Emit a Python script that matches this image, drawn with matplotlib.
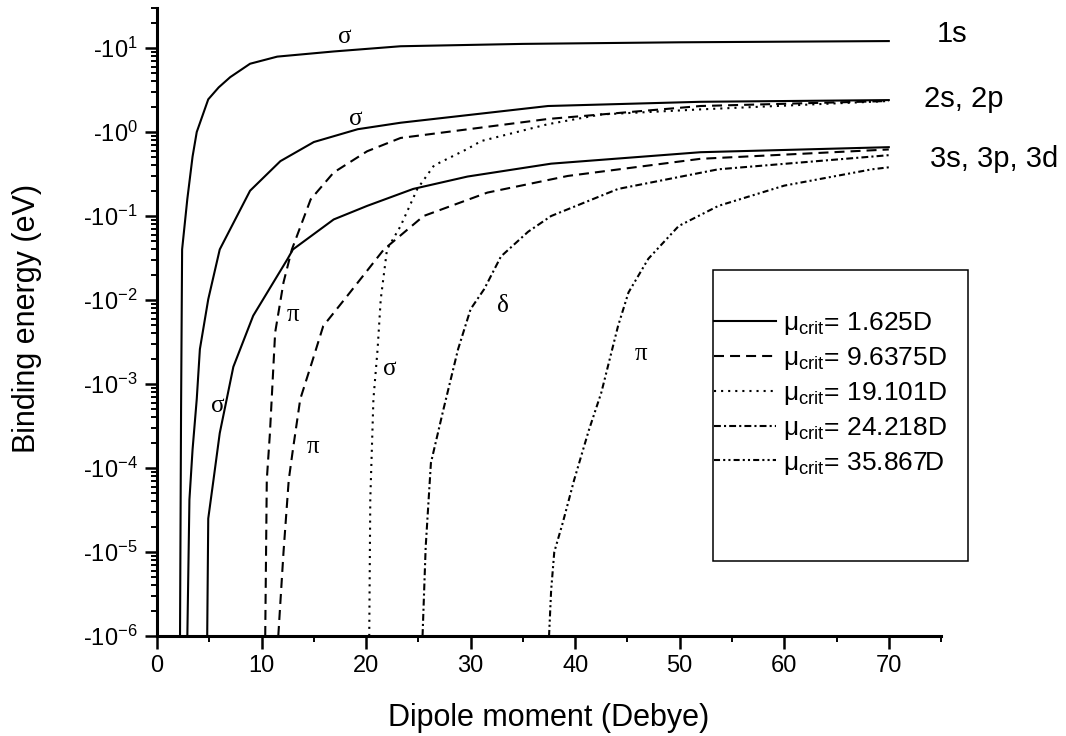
"""Binding energy of dipole-bound states vs. dipole moment"""

import math
import matplotlib.pyplot as plt
from matplotlib.patches import Rectangle
from matplotlib.ticker import LogLocator, FuncFormatter, MultipleLocator, NullFormatter

plt.rcParams['font.family'] = ['Liberation Sans', 'DejaVu Sans']
plt.rcParams['mathtext.default'] = 'regular'

# dipole moment (Debye) and binding energy magnitude (eV) for each state
mu_1s = [2.2, 2.3, 2.4, 2.9, 3.4, 3.8, 4.9, 5.9, 7.0, 8.9, 11.5, 16.9, 23.3, 35, 50, 70]
e_1s = [1e-6, 5e-4, 0.04, 0.16, 0.51, 1.0, 2.45, 3.4, 4.5, 6.5, 7.9, 9.1, 10.5, 11.2, 11.7, 12.1]

mu_2s = [2.9, 3.1, 3.4, 3.8, 4.1, 4.9, 6.0, 8.9, 11.8, 15.0, 19.2, 23.3, 37.4, 52, 70]
e_2s = [1e-6, 4.2e-5, 1.66e-4, 6.6e-4, 2.6e-3, 0.0102, 0.04, 0.20, 0.45, 0.76, 1.08, 1.29, 2.04, 2.29, 2.40]

mu_3s = [4.8, 4.9, 5.4, 6.0, 7.3, 9.2, 12.5, 13.0, 16.9, 20.1, 24.5, 29.7, 37.7, 52, 70]
e_3s = [1e-6, 2.5e-5, 7.2e-5, 2.6e-4, 1.6e-3, 6.5e-3, 0.031, 0.040, 0.091, 0.132, 0.21, 0.295, 0.42, 0.575, 0.66]

mu_2p = [10.35, 10.5, 10.8, 11.3, 12.1, 12.9, 14.7, 16.9, 20.1, 23.3, 37.4, 52, 70]
e_2p = [1e-6, 7.2e-5, 2.6e-4, 4.1e-3, 0.0162, 0.040, 0.158, 0.33, 0.59, 0.85, 1.43, 2.04, 2.34]

mu_3p = [11.6, 12.1, 12.6, 13.0, 13.7, 14.9, 15.9, 18.2, 21.7, 25.5, 31.6, 39.3, 52, 70]
e_3p = [1e-6, 1e-5, 7.2e-5, 1.66e-4, 6.6e-4, 1.95e-3, 4.9e-3, 0.0112, 0.040, 0.1, 0.19, 0.30, 0.48, 0.62]

mu_2p_sig = [20.3, 20.4, 20.7, 21.1, 21.4, 22.0, 23.3, 24.9, 26.5, 29.7, 31.0, 37.4, 42.5, 52, 70]
e_2p_sig = [1e-6, 4.2e-5, 6.6e-4, 2.6e-3, 0.0102, 0.040, 0.076, 0.21, 0.40, 0.63, 0.78, 1.24, 1.62, 1.86, 2.34]

mu_3d = [25.4, 25.7, 26.2, 27.4, 28.8, 30.0, 31.3, 32.9, 35.5, 37.7, 44.1, 53.7, 68.4, 70]
e_3d = [1e-6, 1.15e-5, 1.15e-4, 5e-4, 2.6e-3, 7.8e-3, 0.0135, 0.033, 0.065, 0.1, 0.21, 0.36, 0.51, 0.53]

mu_3d_pi = [37.5, 37.7, 38.0, 38.8, 39.9, 41.3, 42.5, 44.1, 45.1, 47.0, 49.9, 53.7, 60.0, 68.4, 70]
e_3d_pi = [1e-6, 3.5e-6, 1e-5, 2.2e-5, 7.2e-5, 2.8e-4, 7.9e-4, 4.9e-3, 0.0123, 0.031, 0.076, 0.132, 0.23, 0.36, 0.38]

mu_crit = ['1.625', '9.6375', '19.101', '24.218', '35.867']

# symmetry labels: (text, mu, energy)
sym_labels = [('σ', 18.0, 13.5), ('σ', 19.0, 1.43), ('π', 13.0, 0.0066),
              ('σ', 5.8, 5.4e-4), ('π', 14.9, 1.8e-4), ('σ', 22.3, 1.5e-3),
              ('δ', 33.1, 8.5e-3), ('π', 46.3, 2.3e-3)]
shell_labels = [('1s', 74.6, 14.7), ('2s, 2p', 73.4, 2.47), ('3s, 3p, 3d', 73.9, 0.48)]

dash_styles = ['-', (0, (4.8, 2.9)), (0, (1, 2.4)), (0, (3.3, 1.5, 1, 1.5)),
               (0, (2.9, 1.5, 1, 1.5, 1, 1.5))]

curves = [(mu_1s, e_1s, 0), (mu_2s, e_2s, 0), (mu_3s, e_3s, 0),
          (mu_2p, e_2p, 1), (mu_3p, e_3p, 1),
          (mu_2p_sig, e_2p_sig, 2),
          (mu_3d, e_3d, 3),
          (mu_3d_pi, e_3d_pi, 4)]


def neg_power(v, pos):
    return '-10$^{%d}$' % round(math.log10(v))


fig = plt.figure(figsize=(10.66, 7.36), dpi=100)
ax = fig.add_axes([0.1473, 0.1359, 0.7355, 0.8533])

handles = [None] * 5
for x, y, k in curves:
    line, = ax.plot(x, y, color='black', lw=1.5, linestyle=dash_styles[k])
    if handles[k] is None:
        handles[k] = line

ax.set_yscale('log')
ax.set_xlim(0, 75)
ax.set_ylim(1e-6, 30)

ax.xaxis.set_major_locator(MultipleLocator(10))
ax.xaxis.set_minor_locator(MultipleLocator(5))
ax.yaxis.set_major_locator(LogLocator(base=10, numticks=20))
ax.yaxis.set_minor_locator(LogLocator(base=10, subs=range(2, 10), numticks=20))
ax.yaxis.set_minor_formatter(NullFormatter())
ax.yaxis.set_major_formatter(FuncFormatter(neg_power))

for s in ['top', 'right']:
    ax.spines[s].set_visible(False)
for s in ['left', 'bottom']:
    ax.spines[s].set_linewidth(2.2)

ax.tick_params(which='major', length=9, width=1.8, labelsize=17, pad=5)
ax.tick_params(which='minor', length=4.5, width=1.4)

ax.set_xlabel('Dipole moment (Debye)', fontsize=22)
ax.set_ylabel('Binding energy (eV)', fontsize=22)
ax.xaxis.set_label_coords(0.5, -0.107)
ax.yaxis.set_label_coords(-0.147, 0.505)

for txt, x, y in sym_labels:
    ax.text(x, y, txt, family=['Liberation Serif', 'DejaVu Serif'], fontsize=18,
            ha='center', va='center')
for txt, x, y in shell_labels:
    ax.text(x, y, txt, fontsize=21, ha='left', va='center', clip_on=False)

labels = [r'$\mu_{crit}$= %sD' % m for m in mu_crit]
fig.legend(handles, labels, loc='upper left', bbox_to_anchor=(714 / 1066, 1 - 310 / 736),
           frameon=False, fontsize=19, handlelength=2.35, handletextpad=0.27,
           labelspacing=0.3, borderpad=0, borderaxespad=0)
fig.add_artist(Rectangle((713 / 1066, 1 - 561 / 736), 255 / 1066, 291 / 736,
                         transform=fig.transFigure, fill=False, lw=1.1, ec='black'))

fig.savefig('out.png', dpi=100)
